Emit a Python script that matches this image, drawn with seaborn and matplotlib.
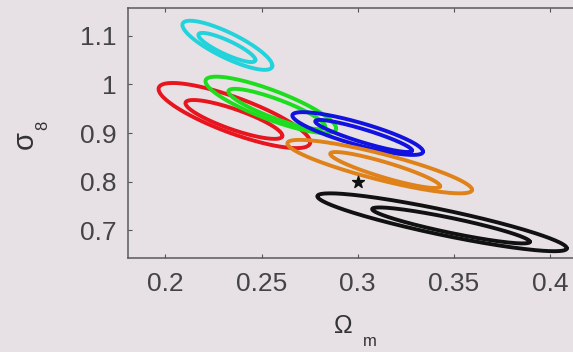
import numpy as np
import pandas as pd
import matplotlib
matplotlib.use("Agg")
import matplotlib.pyplot as plt
import seaborn as sns

# contour extents (Omega_m range, sigma_8 range, thinness)
probes = ['cyan', 'cyan', 'red', 'red', 'green', 'green',
          'blue', 'blue', 'orange', 'orange', 'black', 'black']
levels = ['outer', 'inner'] * 6
om_lo = [0.2088, 0.2171, 0.1964, 0.2104, 0.2208, 0.2327,
         0.2660, 0.2779, 0.2634, 0.2857, 0.2790, 0.3075]
om_hi = [0.2556, 0.2468, 0.2753, 0.2608, 0.2888, 0.2831,
         0.3340, 0.3283, 0.3595, 0.3429, 0.4088, 0.3896]
s8_lo = [1.030, 1.046, 0.869, 0.888, 0.900, 0.908,
         0.855, 0.861, 0.776, 0.787, 0.657, 0.673]
s8_hi = [1.131, 1.106, 1.003, 0.968, 1.016, 0.991,
         0.943, 0.927, 0.886, 0.861, 0.776, 0.747]
thin = [0.56, 0.52, 0.58, 0.55, 0.55, 0.50,
        0.54, 0.42, 0.50, 0.44, 0.44, 0.42]

fiducial_om = [0.3]
fiducial_s8 = [0.8]

xticks = [0.2, 0.25, 0.3, 0.35, 0.4]
xtick_labels = ['0.2', '0.25', '0.3', '0.35', '0.4']
yticks = [0.7, 0.8, 0.9, 1.0, 1.1]
ytick_labels = ['0.7', '0.8', '0.9', '1', '1.1']

colors = {'cyan': '#22d3dc', 'red': '#e8141e', 'green': '#1edc1e',
          'blue': '#1212e0', 'orange': '#e0821a', 'black': '#111111'}

# outline of each contour from its extents
t = np.linspace(0, 2 * np.pi, 200)
rows = []
for i in range(len(probes)):
    cx = (om_lo[i] + om_hi[i]) / 2
    cy = (s8_lo[i] + s8_hi[i]) / 2
    a = (om_hi[i] - om_lo[i]) / 2
    b = (s8_hi[i] - s8_lo[i]) / 2
    phi = np.pi - np.arcsin(thin[i])
    rows.append(pd.DataFrame({'Omega_m': cx + a * np.cos(t),
                              'sigma_8': cy + b * np.cos(t - phi),
                              'probe': probes[i],
                              'curve': f'{probes[i]}_{levels[i]}'}))
df = pd.concat(rows, ignore_index=True)

sns.set_theme(style='white')
bg = '#e7e1e5'
plt.rcParams['font.family'] = ['Liberation Sans', 'DejaVu Sans']

fig = plt.figure(figsize=(5.73, 3.52), dpi=100, facecolor=bg)
ax = fig.add_axes([0.2234, 0.267, 0.7766, 0.71])
ax.set_facecolor(bg)

sns.lineplot(data=df, x='Omega_m', y='sigma_8', hue='probe', units='curve',
             estimator=None, sort=False, palette=colors, linewidth=2.8,
             legend=False, ax=ax)
ax.scatter(fiducial_om, fiducial_s8, marker='*', s=80, color='#111111', zorder=5)

ax.set_xlim(0.1805, 0.412)
ax.set_ylim(0.643, 1.157)
ax.set_xticks(xticks)
ax.set_xticklabels(xtick_labels)
ax.set_yticks(yticks)
ax.set_yticklabels(ytick_labels)
ax.tick_params(direction='in', length=3, width=0.8, colors='#555555',
               labelcolor='#444444', labelsize=19, top=True, bottom=True,
               left=True)
ax.tick_params(axis='x', pad=10)
ax.tick_params(axis='y', pad=8)
for side in ['left', 'bottom', 'top']:
    ax.spines[side].set_color('#5a5a5a')
    ax.spines[side].set_linewidth(1.1)
ax.spines['right'].set_visible(False)
ax.set_xlabel('')
ax.set_ylabel('')

# axis titles, MATLAB-style subscripts
fig.text(343 / 573, 1 - 326 / 352, '\u03a9', fontsize=18, color='#333333',
         ha='center', va='center')
fig.text(370 / 573, 1 - 342 / 352, 'm', fontsize=12, color='#333333',
         ha='center', va='center')
fig.text(25 / 573, 1 - 140 / 352, '\u03c3', fontsize=21, color='#333333',
         ha='center', va='center', rotation=90)
fig.text(43 / 573, 1 - 125 / 352, '8', fontsize=12, color='#333333',
         ha='center', va='center', rotation=90)

fig.savefig('out.png', dpi=100, facecolor=bg)
